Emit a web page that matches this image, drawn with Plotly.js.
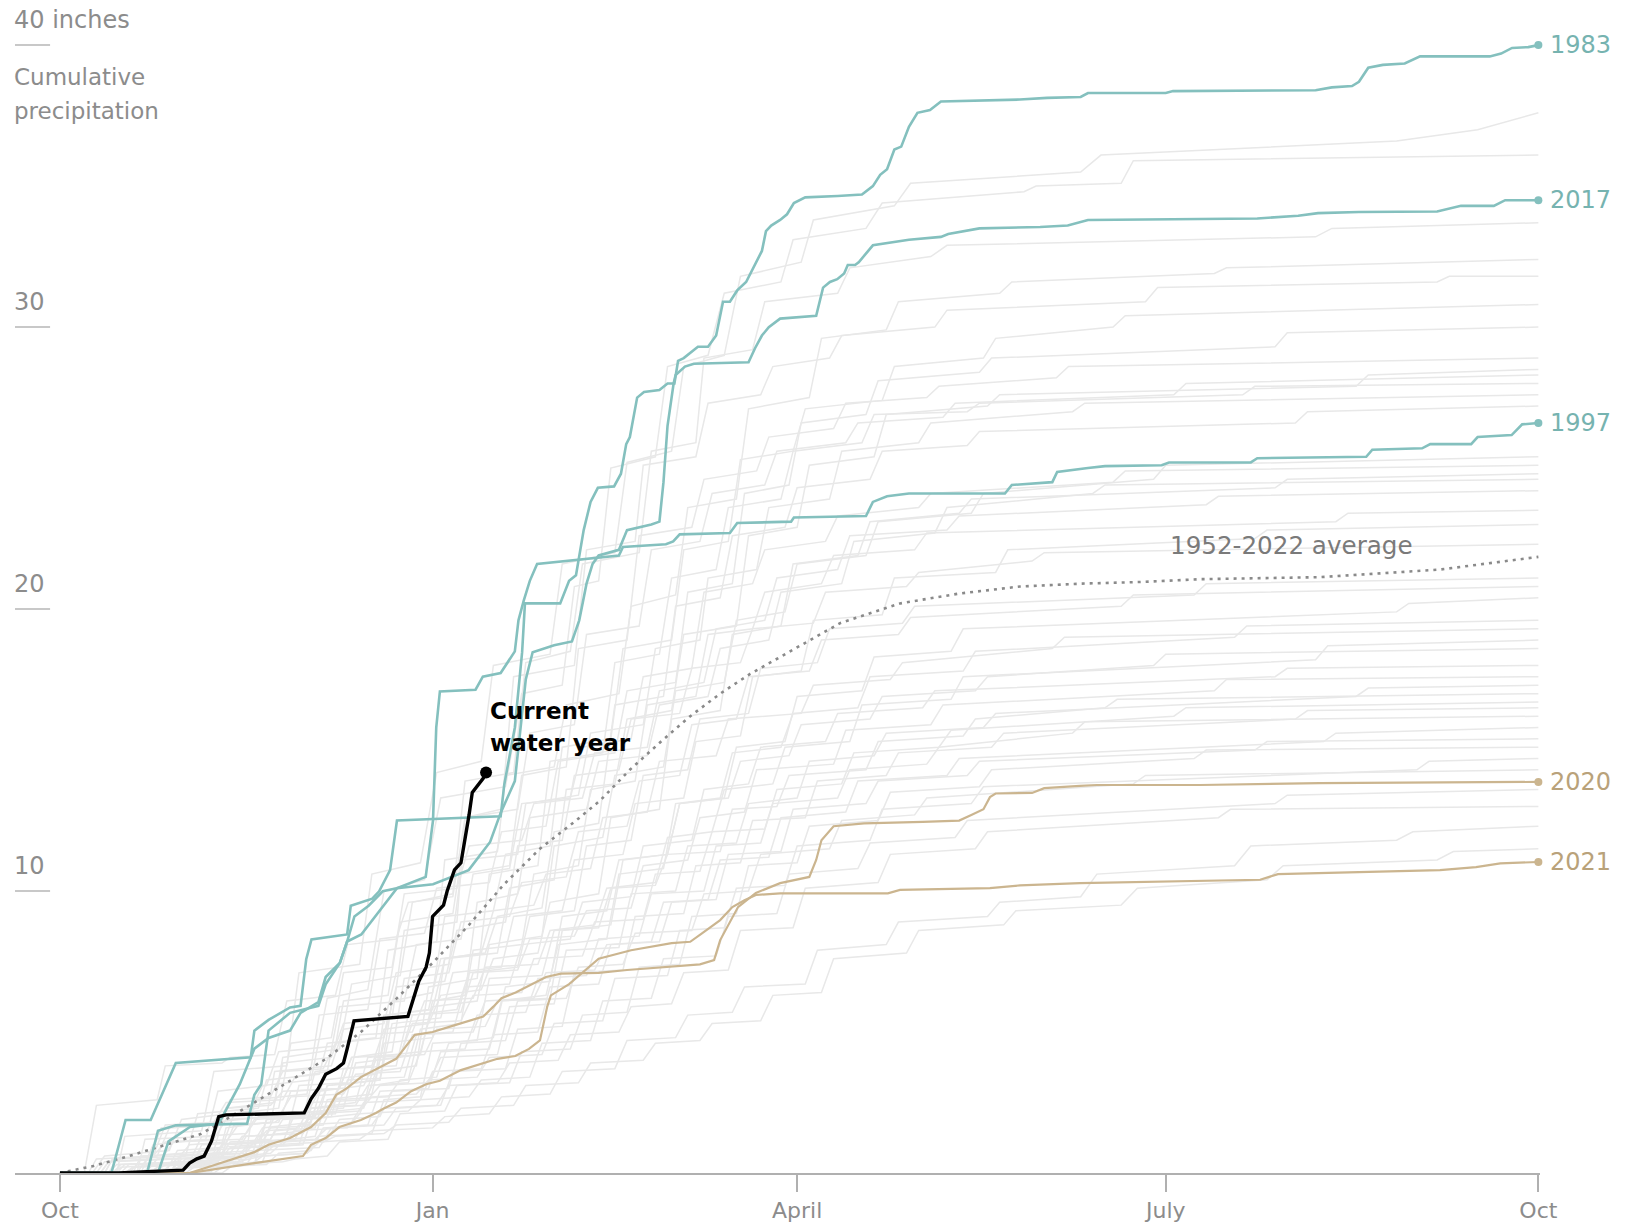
<!DOCTYPE html>
<html>
<head>
<meta charset="utf-8">
<script src="https://cdn.plot.ly/plotly-3.0.1.min.js"></script>
<style>
  html, body { margin: 0; padding: 0; background: #ffffff; }
  #chart { width: 1627px; height: 1228px; }
</style>
</head>
<body>
<div id="chart"></div>
<script>
// ---- Data: [day of water year (0 = Oct 1), cumulative inches] ----
const tickDays = [0, 92, 182, 273, 365];
const tickLabels = ['Oct', 'Jan', 'April', 'July', 'Oct'];

const yTickValues = [40, 30, 20, 10];
const yTickLabels = ['40 inches', '30', '20', '10'];

// background (gray) years
const gray01 = [[0,0],[14,0],[16,1.3],[35,1.5],[38,3.6],[56,3.8],[59,7.1],[74,7.4],[77,10.6],[89,11.0],[93,14.2],[104,14.6],[107,18.0],[121,18.4],[124,21.6],[137,22.0],[140,25.2],[151,25.6],[154,28.6],[164,29.0],[168,31.8],[183,32.3],[186,33.8],[206,34.3],[210,35.1],[252,35.5],[257,36.1],[330,36.6],[350,37.0],[365,37.6]];
const gray02 = [[0,0],[8,0],[11,0.6],[27,0.8],[30,1.9],[47,2.2],[50,3.1],[62,3.3],[66,6.2],[76,6.5],[80,10.0],[90,10.4],[94,13.3],[110,13.7],[114,17.0],[124,17.3],[127,20.8],[133,21.0],[136,25.0],[147,25.4],[150,28.6],[160,29.0],[164,31.2],[178,31.6],[181,33.1],[199,33.5],[203,34.4],[238,34.8],[241,35.0],[262,35.1],[265,35.9],[365,36.1]];
const gray03 = [[0,0],[19,0],[22,0.6],[38,0.8],[41,2.3],[53,2.5],[55,4.1],[69,4.4],[72,6.7],[84,7.0],[87,9.6],[97,9.9],[100,13.9],[112,14.2],[115,18.1],[126,18.5],[129,21.6],[143,22.0],[146,25.6],[157,25.9],[159,28.9],[171,29.2],[174,30.9],[192,31.2],[195,32.1],[215,32.5],[219,32.9],[310,33.2],[314,33.5],[365,33.7]];
const gray04 = [[0,0],[11,0],[13,0.5],[31,0.6],[34,2.1],[49,2.3],[51,3.3],[64,3.5],[66,4.6],[78,4.8],[81,7.9],[93,8.2],[95,11.1],[108,11.4],[110,14.1],[122,14.4],[125,16.6],[138,17.0],[141,20.1],[152,20.5],[155,23.6],[167,23.9],[170,27.1],[185,27.5],[188,29.6],[204,29.9],[207,30.9],[232,31.2],[235,31.6],[285,31.9],[288,32.1],[365,32.4]];
const gray05 = [[0,0],[30,0],[33,0.4],[39,0.5],[41,1.6],[52,1.8],[55,3.9],[67,4.1],[70,5.3],[82,5.5],[85,8.6],[98,8.9],[100,12.6],[109,12.9],[112,17.6],[127,18.0],[130,22.1],[142,22.4],[144,25.1],[157,25.4],[160,27.3],[173,27.6],[176,28.6],[190,28.9],[193,29.7],[216,30.0],[219,30.6],[268,30.9],[271,31.4],[340,31.6],[343,31.8],[365,31.8]];
const gray06 = [[0,0],[17,0],[19,0.3],[33,0.4],[35,1.0],[49,1.1],[51,1.9],[63,2.0],[66,3.1],[79,3.3],[82,6.1],[92,6.4],[95,9.1],[107,9.3],[110,11.3],[121,11.6],[124,15.1],[136,15.4],[139,18.6],[151,18.9],[154,22.1],[165,22.4],[168,25.3],[181,25.6],[184,27.1],[203,27.4],[206,28.6],[228,28.9],[231,29.6],[260,30.0],[263,30.4],[365,30.8]];
const gray07 = [[0,0],[27,0],[30,0.6],[46,0.7],[48,2.6],[61,2.8],[64,5.6],[76,5.8],[79,8.3],[90,8.5],[93,10.1],[106,10.3],[109,12.1],[120,12.3],[123,14.6],[137,14.9],[140,17.1],[152,17.4],[155,20.6],[166,20.9],[169,24.1],[180,24.4],[183,26.6],[199,26.9],[202,28.1],[227,28.4],[230,28.9],[300,29.3],[303,29.8],[365,30.0]];
const gray08 = [[0,0],[10,0],[12,0.4],[22,0.5],[25,1.6],[51,2.0],[53,3.6],[67,3.8],[70,5.1],[80,5.3],[83,7.1],[96,7.4],[99,10.6],[111,10.9],[114,14.1],[125,14.4],[128,18.6],[140,18.9],[143,22.6],[156,22.9],[159,24.6],[172,24.9],[175,26.1],[191,26.4],[194,27.3],[214,27.5],[217,27.9],[246,28.2],[249,28.6],[365,28.9]];
const gray09 = [[0,0],[37,0],[39,0.3],[50,0.4],[52,1.1],[63,1.3],[66,2.6],[77,2.8],[80,4.6],[92,4.8],[95,7.6],[108,7.8],[111,10.1],[122,10.4],[125,13.6],[137,13.8],[140,16.1],[151,16.4],[154,19.1],[167,19.4],[170,22.6],[182,22.9],[185,25.1],[201,25.4],[204,26.9],[229,27.2],[232,27.6],[320,27.9],[323,28.3],[365,28.5]];
const gray10 = [[0,0],[6,0],[9,2.4],[24,2.6],[26,3.8],[40,3.9],[42,4.1],[53,4.2],[56,6.1],[68,6.3],[71,8.1],[83,8.3],[86,9.6],[97,9.8],[100,12.6],[113,12.9],[116,15.6],[127,15.9],[130,19.1],[143,19.4],[146,22.1],[158,22.4],[161,24.1],[174,24.4],[177,25.6],[194,25.9],[197,26.6],[218,26.8],[221,27.3],[275,27.6],[278,28.0],[365,28.3]];
const gray11 = [[0,0],[25,0],[28,0.4],[47,0.5],[49,1.3],[60,1.5],[62,2.1],[75,2.3],[78,3.6],[88,3.8],[91,6.6],[103,6.9],[106,10.6],[118,10.9],[121,14.6],[134,14.9],[137,18.1],[148,18.4],[151,21.1],[162,21.4],[165,23.6],[178,23.9],[181,25.6],[198,25.9],[201,26.9],[224,27.0],[227,27.3],[292,27.6],[295,27.9],[365,28.0]];
const gray12 = [[0,0],[20,0],[23,1.0],[36,1.2],[39,2.9],[51,3.1],[54,4.3],[68,4.5],[70,6.1],[81,6.3],[84,8.9],[97,9.2],[99,11.1],[113,11.3],[115,13.1],[128,13.4],[131,15.6],[144,15.9],[147,18.6],[158,18.9],[160,21.1],[172,21.4],[175,23.6],[190,23.9],[193,25.6],[212,25.9],[215,26.6],[250,27.0],[253,27.3],[365,27.6]];
const gray13 = [[0,0],[13,0],[15,0.3],[32,0.4],[35,0.8],[47,0.9],[50,1.6],[62,1.8],[65,3.3],[78,3.5],[80,5.6],[91,5.8],[94,7.6],[105,7.8],[108,9.1],[119,9.4],[122,12.1],[133,12.4],[137,16.6],[149,16.9],[152,20.1],[163,20.4],[166,22.6],[179,22.9],[182,24.3],[200,24.6],[203,25.6],[224,25.8],[227,26.3],[305,26.6],[308,27.0],[365,27.2]];
const gray14 = [[0,0],[29,0],[31,0.3],[44,0.4],[47,0.9],[59,1.0],[62,2.3],[73,2.5],[76,4.1],[89,4.3],[92,5.9],[103,6.1],[106,8.1],[119,8.4],[122,11.6],[134,11.9],[137,14.1],[149,14.4],[152,17.1],[164,17.4],[167,19.6],[179,19.9],[182,21.6],[199,21.9],[202,23.1],[225,23.4],[228,24.1],[270,24.6],[273,25.1],[365,25.4]];
const gray15 = [[0,0],[11,0],[13,0.5],[23,0.6],[26,1.7],[38,1.8],[41,2.5],[55,2.6],[58,3.4],[66,3.6],[69,5.9],[85,6.1],[88,8.1],[99,8.3],[102,10.6],[111,10.8],[114,13.1],[126,13.3],[129,15.1],[141,15.4],[144,17.6],[156,17.9],[159,20.6],[171,20.9],[174,22.1],[189,22.4],[192,23.3],[212,23.6],[215,24.1],[260,24.5],[263,24.9],[365,25.1]];
const gray16 = [[0,0],[36,0],[39,0.2],[48,0.3],[51,1.9],[60,2.0],[63,3.6],[77,3.8],[80,5.1],[91,5.3],[94,6.3],[104,6.5],[107,7.6],[118,7.8],[121,9.6],[133,9.9],[136,12.6],[148,12.9],[151,16.1],[163,16.4],[166,19.1],[178,19.4],[181,21.6],[197,21.9],[200,23.1],[222,23.4],[225,23.9],[300,24.3],[303,24.6],[365,24.8]];
const gray17 = [[0,0],[15,0],[17,0.3],[32,0.4],[35,1.3],[46,1.4],[49,2.0],[61,2.1],[64,2.9],[75,3.1],[78,4.0],[89,4.2],[92,6.1],[100,6.3],[103,9.6],[113,9.9],[116,12.6],[130,12.9],[133,14.6],[145,14.8],[148,16.6],[160,16.9],[163,18.6],[175,18.9],[178,20.6],[193,20.9],[196,22.4],[216,22.7],[219,23.6],[255,24.1],[258,24.4],[365,24.6]];
const gray18 = [[0,0],[26,0],[29,0.8],[40,0.9],[43,2.1],[54,2.3],[57,4.6],[67,4.8],[70,7.1],[82,7.3],[85,9.9],[98,10.1],[101,11.6],[114,11.8],[117,13.1],[129,13.3],[132,14.9],[145,15.1],[148,17.1],[159,17.4],[162,19.3],[174,19.6],[177,21.1],[192,21.4],[195,22.6],[219,22.8],[222,23.3],[283,23.7],[286,24.0],[365,24.2]];
const gray19 = [[0,0],[16,0],[18,0.2],[33,0.3],[36,0.6],[45,0.7],[48,1.1],[58,1.2],[61,1.9],[74,2.1],[77,3.1],[86,3.3],[89,5.1],[99,5.3],[102,7.9],[114,8.1],[117,10.6],[128,10.9],[131,13.6],[142,13.9],[145,16.6],[157,16.9],[160,19.1],[171,19.3],[174,20.6],[188,20.9],[191,21.9],[211,22.1],[214,22.7],[315,23.1],[318,23.4],[365,23.5]];
const gray20 = [[0,0],[28,0],[31,0.5],[50,0.6],[53,1.5],[63,1.6],[66,3.1],[79,3.3],[82,5.3],[94,5.5],[97,7.1],[109,7.3],[112,9.1],[124,9.3],[127,11.1],[139,11.3],[142,13.1],[154,13.3],[157,15.3],[168,15.5],[171,17.6],[183,17.8],[186,19.6],[203,19.8],[206,21.1],[231,21.3],[234,22.1],[295,22.5],[298,22.8],[365,23.0]];
const gray21 = [[0,0],[12,0],[14,0.5],[24,0.6],[27,1.6],[39,1.7],[42,2.6],[52,2.7],[55,3.6],[65,3.7],[68,4.6],[80,4.8],[83,6.6],[95,6.8],[98,8.6],[110,8.9],[113,11.6],[124,11.8],[127,14.1],[138,14.3],[141,16.1],[153,16.3],[156,17.9],[168,18.1],[171,19.3],[186,19.5],[189,20.6],[209,20.8],[212,21.3],[240,21.7],[243,22.0],[365,22.3]];
const gray22 = [[0,0],[22,0],[25,0.3],[37,0.4],[40,1.0],[55,1.1],[58,2.1],[70,2.3],[73,3.9],[84,4.1],[87,5.6],[98,5.8],[101,7.1],[113,7.3],[116,9.1],[127,9.3],[130,11.6],[141,11.8],[144,14.1],[155,14.3],[158,16.1],[170,16.3],[173,17.9],[187,18.1],[190,19.3],[208,19.5],[211,20.1],[280,20.5],[283,20.9],[365,21.1]];
const gray23 = [[0,0],[19,0],[21,1.2],[38,1.3],[41,2.3],[52,2.4],[55,2.9],[69,3.0],[72,4.1],[82,4.3],[85,6.9],[96,7.1],[99,8.9],[111,9.1],[114,10.3],[125,10.5],[128,12.1],[140,12.3],[143,13.9],[153,14.1],[156,15.9],[167,16.1],[170,17.6],[185,17.8],[188,18.9],[207,19.1],[210,19.7],[262,20.1],[265,20.5],[365,20.8]];
const gray24 = [[0,0],[14,0],[16,0.3],[34,0.4],[37,0.7],[49,0.8],[52,1.6],[65,1.7],[68,2.6],[81,2.7],[84,3.3],[93,3.4],[96,4.6],[107,4.8],[110,6.6],[121,6.8],[124,9.1],[135,9.3],[138,11.1],[150,11.3],[153,13.1],[164,13.3],[167,15.1],[179,15.3],[182,16.9],[198,17.1],[201,18.3],[220,18.5],[223,19.3],[330,19.9],[333,20.2],[365,20.4]];
const gray25 = [[0,0],[35,0],[38,0.2],[46,0.3],[49,0.9],[60,1.0],[63,2.3],[75,2.4],[78,4.1],[90,4.2],[93,5.1],[105,5.2],[108,6.1],[120,6.3],[123,8.1],[135,8.3],[138,10.6],[149,10.8],[152,13.1],[163,13.3],[166,14.9],[178,15.1],[181,16.3],[197,16.5],[200,17.6],[223,17.8],[226,18.5],[290,19.0],[293,19.4],[365,19.6]];
const gray26 = [[0,0],[9,0],[11,0.4],[29,0.5],[32,1.0],[41,1.1],[44,1.7],[53,1.8],[56,2.1],[66,2.2],[69,3.1],[78,3.3],[81,5.6],[92,5.8],[95,7.6],[104,7.8],[107,9.3],[117,9.5],[120,10.6],[131,10.8],[134,12.6],[145,12.8],[148,14.6],[162,14.8],[165,16.1],[183,16.3],[186,17.3],[205,17.5],[208,18.1],[245,18.6],[248,19.0],[365,19.3]];
const gray27 = [[0,0],[21,0],[24,0.5],[43,0.6],[46,1.3],[56,1.4],[59,3.1],[71,3.2],[74,4.9],[87,5.0],[90,6.1],[102,6.2],[105,7.3],[118,7.4],[121,8.6],[132,8.8],[135,10.1],[147,10.3],[150,11.9],[161,12.1],[164,13.6],[176,13.8],[179,15.1],[195,15.3],[198,16.6],[220,16.8],[223,17.6],[310,18.2],[313,18.7],[365,18.9]];
const gray28 = [[0,0],[33,0],[36,0.2],[51,0.3],[54,0.7],[62,0.8],[65,1.6],[76,1.7],[79,2.9],[91,3.0],[94,4.3],[106,4.4],[109,6.1],[121,6.2],[124,8.6],[136,8.8],[139,11.1],[150,11.3],[153,13.1],[165,13.3],[168,14.6],[180,14.8],[183,15.9],[200,16.1],[203,16.9],[226,17.1],[229,17.6],[270,18.0],[273,18.4],[365,18.6]];
const gray29 = [[0,0],[7,0],[9,0.5],[23,0.6],[26,1.1],[38,1.2],[41,1.9],[54,2.0],[57,2.7],[70,2.8],[73,3.5],[84,3.6],[87,4.9],[97,5.0],[100,6.6],[111,6.7],[114,8.1],[126,8.3],[129,9.6],[141,9.8],[144,11.6],[156,11.8],[159,13.6],[170,13.8],[173,15.1],[189,15.3],[192,16.3],[213,16.5],[216,17.1],[300,17.6],[303,17.9],[365,18.0]];
const gray30 = [[0,0],[23,0],[26,0.3],[39,0.4],[42,1.1],[52,1.2],[55,1.9],[67,2.0],[70,3.7],[83,3.8],[86,5.6],[99,5.7],[102,7.1],[113,7.2],[116,8.3],[127,8.4],[130,9.3],[141,9.4],[144,10.9],[155,11.1],[158,12.6],[169,12.8],[172,14.3],[191,14.5],[194,15.7],[215,15.9],[218,16.6],[285,17.1],[288,17.5],[365,17.6]];
const gray31 = [[0,0],[12,0],[14,0.3],[36,0.4],[39,0.9],[48,1.0],[51,1.5],[59,1.6],[62,2.5],[76,2.6],[79,3.1],[91,3.2],[94,4.1],[108,4.2],[111,5.9],[122,6.0],[125,7.9],[138,8.0],[141,9.9],[152,10.0],[155,11.6],[167,11.7],[170,13.1],[182,13.3],[185,14.6],[201,14.8],[204,15.6],[228,15.8],[231,16.3],[320,16.9],[323,17.2],[365,17.3]];
const gray32 = [[0,0],[38,0],[41,0.3],[47,0.5],[50,0.6],[61,0.7],[64,1.3],[77,1.4],[80,2.6],[89,2.7],[92,4.6],[103,4.7],[106,6.9],[119,7.0],[122,8.6],[133,8.7],[136,10.1],[147,10.2],[150,11.3],[163,11.4],[166,12.9],[177,13.0],[180,14.1],[199,14.3],[202,15.3],[223,15.5],[226,16.1],[258,16.5],[261,16.8],[365,17.0]];
const gray33 = [[0,0],[18,0],[20,0.6],[40,0.7],[43,1.7],[54,1.8],[57,2.9],[69,3.0],[72,4.1],[84,4.2],[87,5.3],[99,5.4],[102,6.3],[114,6.4],[117,7.6],[129,7.7],[132,8.9],[144,9.0],[147,10.6],[158,10.7],[161,12.1],[174,12.2],[177,13.6],[193,13.8],[196,14.9],[217,15.1],[220,15.7],[275,16.2],[278,16.5],[365,16.7]];
const gray34 = [[0,0],[31,0],[34,0.3],[45,0.4],[48,0.8],[64,0.9],[67,1.6],[80,1.7],[83,2.3],[94,2.4],[97,3.6],[110,3.7],[113,5.1],[124,5.2],[127,7.1],[139,7.2],[142,9.1],[154,9.2],[157,10.9],[168,11.0],[171,12.5],[184,12.6],[187,13.9],[204,14.1],[207,14.9],[230,15.1],[233,15.6],[305,16.1],[308,16.4],[365,16.5]];
const gray35 = [[0,0],[10,0],[12,0.4],[25,0.5],[28,1.1],[45,1.2],[48,1.9],[58,2.0],[61,2.3],[73,2.4],[76,3.1],[86,3.2],[89,4.3],[100,4.4],[103,5.6],[115,5.7],[118,6.9],[130,7.0],[133,8.3],[143,8.4],[146,9.9],[159,10.0],[162,11.6],[173,11.7],[176,13.1],[192,13.3],[195,14.3],[214,14.5],[217,15.1],[250,15.6],[253,16.0],[365,16.2]];
const gray36 = [[0,0],[26,0],[29,0.2],[37,0.3],[40,1.0],[50,1.1],[53,2.0],[68,2.1],[71,3.3],[85,3.4],[88,4.9],[102,5.0],[105,6.1],[117,6.2],[120,7.1],[132,7.2],[135,8.1],[146,8.2],[149,9.6],[160,9.7],[163,11.1],[175,11.2],[178,12.6],[194,12.8],[197,13.9],[219,14.1],[222,14.7],[312,15.3],[315,15.6],[365,15.8]];
const gray37 = [[0,0],[16,0],[18,0.2],[30,0.3],[33,0.5],[44,0.6],[47,1.1],[56,1.2],[59,1.7],[72,1.8],[75,2.5],[89,2.6],[92,3.6],[104,3.7],[107,4.9],[118,5.0],[121,6.6],[133,6.7],[136,8.1],[148,8.2],[151,9.6],[162,9.7],[165,11.3],[178,11.4],[181,12.9],[199,13.1],[202,13.9],[224,14.1],[227,14.6],[295,15.0],[298,15.3],[365,15.4]];
const gray38 = [[0,0],[40,0],[43,0.3],[55,0.4],[58,0.5],[66,0.6],[69,1.1],[81,1.2],[84,2.1],[95,2.2],[98,3.1],[111,3.2],[114,4.3],[126,4.4],[129,5.6],[140,5.7],[143,7.3],[153,7.4],[156,9.1],[167,9.2],[170,10.9],[182,11.0],[185,12.3],[202,12.5],[205,13.5],[227,13.7],[230,14.3],[280,14.7],[283,15.0],[365,15.1]];
const gray39 = [[0,0],[13,0],[15,0.2],[27,0.3],[30,0.6],[42,0.7],[45,1.3],[60,1.4],[63,2.1],[74,2.2],[77,2.7],[88,2.8],[91,3.3],[103,3.4],[106,4.1],[119,4.2],[122,5.3],[134,5.4],[137,6.9],[150,7.0],[153,8.6],[164,8.7],[167,10.1],[179,10.2],[182,11.6],[200,11.8],[203,12.9],[225,13.1],[228,13.7],[335,14.3],[338,14.6],[365,14.7]];
const gray40 = [[0,0],[29,0],[32,0.2],[41,0.3],[44,0.6],[52,0.7],[55,1.1],[66,1.2],[69,1.9],[79,2.0],[82,2.9],[96,3.0],[99,4.6],[110,4.7],[113,6.1],[125,6.2],[128,7.3],[139,7.4],[142,8.5],[156,8.6],[159,9.9],[170,10.0],[173,11.3],[190,11.5],[193,12.5],[211,12.7],[214,13.3],[265,13.8],[268,14.1],[365,14.3]];
const gray41 = [[0,0],[20,0],[23,0.3],[39,0.4],[42,0.9],[55,1.0],[58,1.5],[71,1.6],[74,2.1],[86,2.2],[89,2.6],[101,2.7],[104,3.3],[116,3.4],[119,4.6],[131,4.7],[134,6.1],[146,6.2],[149,7.6],[162,7.7],[165,9.1],[177,9.2],[180,10.6],[197,10.8],[200,11.7],[221,11.9],[224,12.5],[300,13.1],[303,13.4],[365,13.6]];
const gray42 = [[0,0],[27,0],[30,0.5],[48,0.6],[51,1.1],[63,1.2],[66,1.6],[77,1.7],[80,2.3],[93,2.4],[96,3.1],[108,3.2],[111,3.9],[123,4.0],[126,4.9],[138,5.0],[141,5.9],[151,6.0],[154,7.1],[165,7.2],[168,8.6],[181,8.7],[184,10.1],[202,10.3],[205,11.3],[226,11.5],[229,12.1],[286,12.6],[289,12.9],[365,13.0]];
const gray43 = [[0,0],[34,0],[37,0.2],[47,0.3],[50,0.6],[61,0.7],[64,1.1],[74,1.2],[77,1.5],[92,1.6],[95,2.0],[106,2.1],[109,2.7],[121,2.8],[124,3.6],[137,3.7],[140,4.7],[152,4.8],[155,5.6],[166,5.7],[169,6.6],[184,6.7],[187,7.9],[204,8.1],[207,8.9],[229,9.1],[232,9.6],[252,9.8],[256,10.6],[290,10.9],[294,11.6],[330,11.8],[334,12.1],[365,12.3]];
const gray44 = [[0,0],[19,0],[21,0.1],[35,0.2],[38,0.5],[50,0.6],[53,1.0],[65,1.1],[68,1.3],[80,1.4],[83,1.7],[96,1.8],[99,2.3],[112,2.4],[115,3.1],[128,3.2],[131,3.9],[144,4.0],[147,4.6],[158,4.7],[161,5.3],[173,5.4],[176,6.3],[188,6.4],[191,7.6],[209,7.8],[212,8.6],[233,8.8],[236,9.3],[262,9.5],[266,10.1],[298,10.4],[302,10.9],[340,11.1],[344,11.4],[365,11.5]];

// highlighted years
const year1983 = [[0,0],[12.7,0],[16.2,1.88],[22.4,1.88],[28.6,3.9],[47.1,4.1],[48,5.05],[51.5,5.43],[56.8,5.87],[59.4,5.93],[60.8,7.58],[62.1,8.28],[70.9,8.46],[71.8,9.48],[77.1,9.73],[78.8,9.99],[81.5,10.74],[83.2,12.5],[108.8,12.65],[109.7,13.78],[112.3,15.8],[113.2,17.08],[114.1,18.47],[114.8,20.2],[123.5,20.2],[125.7,21.0],[127.4,21.2],[129.3,22.8],[131,23.8],[132.8,24.3],[136.8,24.35],[138.5,24.8],[139.8,25.85],[140.7,26.1],[142.5,27.5],[144.2,27.7],[148,27.77],[150,28.0],[151.7,28.0],[152.6,28.8],[154,28.9],[157.5,29.3],[160,29.3],[162,29.7],[163.7,30.9],[165.4,30.9],[167.2,31.3],[169.4,31.6],[171.6,32.2],[173.3,32.7],[174.3,33.4],[175.6,33.6],[177.8,33.8],[179.5,34.0],[181.2,34.4],[184,34.6],[192,34.65],[198,34.7],[200.7,35.0],[202.5,35.4],[204.2,35.6],[206,36.3],[207.7,36.4],[209.6,37.1],[211.7,37.6],[214.8,37.7],[217.5,38.0],[237,38.07],[243.7,38.13],[252,38.16],[253.8,38.3],[273,38.3],[274.8,38.37],[310,38.4],[314,38.5],[319,38.55],[320.7,38.7],[323,39.2],[326.6,39.3],[332,39.35],[335.8,39.6],[353,39.6],[355.8,39.7],[358.5,39.9],[362.5,39.93],[365,40.0]];
const year2017 = [[0,0],[24.2,0],[26.8,1.12],[32.1,1.63],[39.2,1.75],[44.4,3.15],[48,4.41],[51.5,4.79],[56.8,5.05],[59.4,5.68],[63.8,6.06],[65.6,6.95],[69.1,7.45],[70.9,8.21],[74.4,8.46],[83.2,10.1],[92.1,10.24],[100.9,10.74],[106.2,11.74],[108.8,12.77],[112.3,13.9],[113.5,15.5],[115,17.5],[116.7,18.47],[122,18.72],[126.4,18.85],[128.2,19.6],[130,20.9],[131.5,21.6],[133,21.9],[138,22.1],[140,22.8],[146,23.0],[148,23.1],[149,24.5],[150,26.5],[151.5,28.0],[152,28.3],[154.3,28.6],[156.5,28.7],[170,28.75],[171.6,29.25],[173.3,29.7],[175,30.0],[177.8,30.3],[186.7,30.4],[188.4,31.4],[190.1,31.6],[191.9,31.7],[193.6,31.9],[194.5,32.2],[196.3,32.2],[197.2,32.3],[200.7,32.9],[209.6,33.1],[217.5,33.2],[219.3,33.3],[227,33.5],[242,33.55],[248.8,33.6],[253.8,33.8],[295.6,33.85],[305.7,33.95],[310.6,34.04],[320.7,34.08],[340,34.1],[344.2,34.25],[345.9,34.3],[354,34.3],[356.8,34.5],[365,34.5]];
const year1997 = [[0,0],[21.5,0],[24.2,1.5],[28.6,1.69],[46.2,1.75],[48,2.77],[49.7,3.15],[51.5,5.05],[56.8,5.68],[63.8,5.93],[65.6,6.69],[69.1,7.45],[70.9,8.21],[72.7,9.1],[76.2,9.48],[79.7,9.99],[83.2,10.1],[90.3,10.5],[92.1,12.5],[92.9,15.8],[93.8,17.08],[102.6,17.14],[104.4,17.6],[108.8,17.73],[112.3,18.5],[113.2,19.6],[114.5,20.3],[116,21.0],[117.8,21.6],[138,21.9],[139,22.2],[149.6,22.3],[151.4,22.4],[153,22.65],[165.4,22.7],[167.2,23.05],[180.5,23.1],[181.2,23.25],[199,23.3],[200.7,23.8],[204.2,24.0],[209.6,24.1],[233.3,24.1],[235,24.4],[245,24.5],[246.2,24.86],[253.8,25.0],[258,25.07],[272,25.1],[273.8,25.2],[294,25.2],[295.6,25.35],[322.5,25.4],[324,25.65],[336.3,25.7],[338.3,25.85],[348.4,25.85],[350,26.1],[358.4,26.17],[361,26.55],[365,26.6]];
const year2020 = [[0,0],[32,0],[37.4,0.25],[48,0.74],[51.5,1.0],[56.8,1.24],[62,1.63],[65.6,2.13],[68.2,2.77],[70.8,3.0],[74.3,3.4],[79.6,3.8],[83,4.05],[87.6,4.9],[92,5.0],[96.5,5.2],[101,5.4],[104.5,5.55],[107,5.9],[109,6.2],[112.5,6.4],[116.8,6.7],[120,6.95],[123.7,7.07],[133,7.1],[140,7.2],[150,7.3],[158,7.4],[161.5,7.55],[163,8.26],[167.4,9.43],[171.8,9.93],[177.8,10.28],[185,10.5],[186.7,11.1],[188,11.8],[191,12.3],[198.5,12.4],[213,12.45],[222,12.5],[225,12.7],[228,12.9],[229.6,13.33],[231,13.46],[240,13.48],[243,13.65],[251.8,13.73],[256,13.76],[281.5,13.76],[311,13.83],[365,13.87]];
const year2021 = [[0,0],[32,0],[48,0.35],[60,0.6],[62,1.0],[65.6,1.24],[69,1.63],[74.3,1.88],[78,2.13],[79.7,2.27],[83,2.5],[86.7,2.9],[90.4,3.15],[93.8,3.27],[99,3.65],[104.5,3.9],[108,4.05],[112.4,4.15],[115.8,4.4],[118.5,4.7],[120.3,5.9],[121.2,6.3],[125.7,6.7],[133,7.6],[141,7.9],[151,8.15],[155.6,8.2],[158.5,8.5],[163,8.97],[166,9.43],[169,9.67],[171.8,9.86],[177.8,9.92],[204.4,9.92],[207.4,10.04],[229.6,10.1],[237,10.2],[251.8,10.28],[296.3,10.4],[300.7,10.6],[340.7,10.74],[349.6,10.85],[355.6,10.98],[365,11.03]];
const currentYear = [[0,0],[14.5,0],[21.5,0.05],[30.4,0.1],[32,0.35],[33.8,0.5],[35.6,0.6],[37.4,1.13],[39.2,2.0],[41,2.06],[60.3,2.13],[62,2.63],[63.8,3.0],[65.6,3.5],[68.3,3.7],[70,3.9],[70.9,4.4],[72.6,5.4],[85.9,5.55],[86.7,5.9],[88.6,6.8],[90.4,7.3],[91.2,7.8],[92,9.1],[94.7,9.5],[95.6,10.0],[97.4,10.75],[99,11.0],[100,11.8],[101,12.7],[101.8,13.5],[104.5,14.0],[105.2,14.2]];
const averageLine = [[0,0],[8.3,0.25],[17,0.6],[25.9,1.0],[34.7,1.38],[39.2,1.75],[43.5,2.13],[48,2.5],[56.8,3.27],[65.7,4.05],[74.3,5.0],[83.2,6.2],[92,7.45],[101,8.8],[109.7,10.25],[118.5,11.5],[127.4,12.5],[133.3,13.2],[140.7,14.3],[148,15.25],[155.6,16.2],[163,17.0],[170.4,17.7],[177.8,18.3],[185,18.9],[192.6,19.5],[200,19.85],[207.4,20.2],[222,20.55],[237,20.8],[251.8,20.9],[266.7,20.96],[281.5,21.06],[311,21.13],[340.7,21.4],[365,21.85]];

// ---- Styles ----
const FONT = '"DejaVu Sans", Verdana, sans-serif';
const TEAL = '#84c0be';
const TEAL_TEXT = '#76b3b0';
const TAN = '#cbb58f';
const TAN_TEXT = '#b9a27a';
const GRAY_LINE = '#e8e8e8';
const LABEL_GRAY = '#8c8c8c';

const grayLines = [gray01,gray02,gray03,gray04,gray05,gray06,gray07,gray08,gray09,gray10,gray11,gray12,gray13,gray14,gray15,gray16,gray17,gray18,gray19,gray20,gray21,gray22,gray23,gray24,gray25,gray26,gray27,gray28,gray29,gray30,gray31,gray32,gray33,gray34,gray35,gray36,gray37,gray38,gray39,gray40,gray41,gray42,gray43,gray44];

function pairTrace(pairs, line) {
  return {x: pairs.map(p => p[0]), y: pairs.map(p => p[1]),
    type: 'scatter', mode: 'lines', line: line, hoverinfo: 'skip', cliponaxis: false};
}
function endDot(pairs, color, size) {
  const last = pairs[pairs.length - 1];
  return {x: [last[0]], y: [last[1]], type: 'scatter', mode: 'markers',
    marker: {color: color, size: size}, hoverinfo: 'skip', cliponaxis: false};
}

const traces = grayLines.map(g => pairTrace(g, {color: GRAY_LINE, width: 1.5}));
traces.push(pairTrace(averageLine, {color: '#8a8a8a', width: 2.6, dash: '3px,5px'}));
traces.push(pairTrace(year2020, {color: TAN, width: 2.2}));
traces.push(pairTrace(year2021, {color: TAN, width: 2.2}));
traces.push(pairTrace(year1997, {color: TEAL, width: 2.6}));
traces.push(pairTrace(year2017, {color: TEAL, width: 2.6}));
traces.push(pairTrace(year1983, {color: TEAL, width: 2.6}));
traces.push(endDot(year2020, TAN, 8));
traces.push(endDot(year2021, TAN, 8));
traces.push(endDot(year1997, TEAL, 8));
traces.push(endDot(year2017, TEAL, 8));
traces.push(endDot(year1983, TEAL, 8));
traces.push(pairTrace(currentYear, {color: '#000000', width: 3.4}));
traces.push(endDot(currentYear, '#000000', 12));

// ---- Annotations ----
const annotations = [];
yTickValues.forEach((v, i) => {
  annotations.push({xref: 'paper', x: 0, xanchor: 'left', xshift: -3, yref: 'y', y: v, yanchor: 'middle',
    yshift: 25, text: yTickLabels[i], showarrow: false,
    font: {family: FONT, size: 24, color: LABEL_GRAY}});
});
annotations.push({xref: 'paper', x: 0, xanchor: 'left', xshift: -3, yref: 'y', y: 38.87, yanchor: 'middle',
  text: 'Cumulative', showarrow: false, font: {family: FONT, size: 23, color: LABEL_GRAY}});
annotations.push({xref: 'paper', x: 0, xanchor: 'left', xshift: -3, yref: 'y', y: 37.66, yanchor: 'middle',
  text: 'precipitation', showarrow: false, font: {family: FONT, size: 23, color: LABEL_GRAY}});

const yearLabels = [['1983', year1983, TEAL_TEXT], ['2017', year2017, TEAL_TEXT], ['1997', year1997, TEAL_TEXT],
                    ['2020', year2020, TAN_TEXT], ['2021', year2021, TAN_TEXT]];
yearLabels.forEach(([txt, pairs, col]) => {
  const last = pairs[pairs.length - 1];
  annotations.push({xref: 'x', x: last[0], xanchor: 'left', xshift: 10, yref: 'y', y: last[1], yanchor: 'middle',
    text: txt, showarrow: false, font: {family: FONT, size: 24, color: col}});
});
annotations.push({xref: 'x', x: 105.6, xanchor: 'left', yref: 'y', y: 16.38, yanchor: 'middle',
  text: '<b>Current</b>', showarrow: false, font: {family: FONT, size: 23, color: '#000'}});
annotations.push({xref: 'x', x: 105.6, xanchor: 'left', yref: 'y', y: 15.25, yanchor: 'middle',
  text: '<b>water year</b>', showarrow: false, font: {family: FONT, size: 23, color: '#000'}});
annotations.push({xref: 'x', x: 273.5, xanchor: 'left', yref: 'y', y: 22.27, yanchor: 'middle',
  text: '1952-2022 average', showarrow: false, font: {family: FONT, size: 24.6, color: '#7a7a7a'}});

const shapes = yTickValues.map(v => ({type: 'line', xref: 'paper', x0: 0, x1: 0.023, yref: 'y', y0: v, y1: v,
  line: {color: '#c8c8c8', width: 2}}));

const layout = {
  width: 1627, height: 1228,
  margin: {l: 15, r: 87, t: 0, b: 55},
  paper_bgcolor: '#ffffff', plot_bgcolor: '#ffffff',
  showlegend: false, hovermode: false,
  xaxis: {
    range: [-11.1, 365.4], showgrid: false, zeroline: false,
    showline: true, linecolor: '#b0b0b0', linewidth: 2,
    ticks: 'outside', ticklen: 17, tickwidth: 2, tickcolor: '#b0b0b0',
    tickvals: tickDays, ticktext: tickLabels, ticklabelstandoff: 0,
    tickfont: {family: FONT, size: 22, color: LABEL_GRAY}, fixedrange: true
  },
  yaxis: {
    range: [0, 41.6], showgrid: false, zeroline: false, showline: false,
    showticklabels: false, ticks: '', fixedrange: true
  },
  annotations: annotations,
  shapes: shapes
};

Plotly.newPlot('chart', traces, layout, {displayModeBar: false, staticPlot: true});
</script>
</body>
</html>
